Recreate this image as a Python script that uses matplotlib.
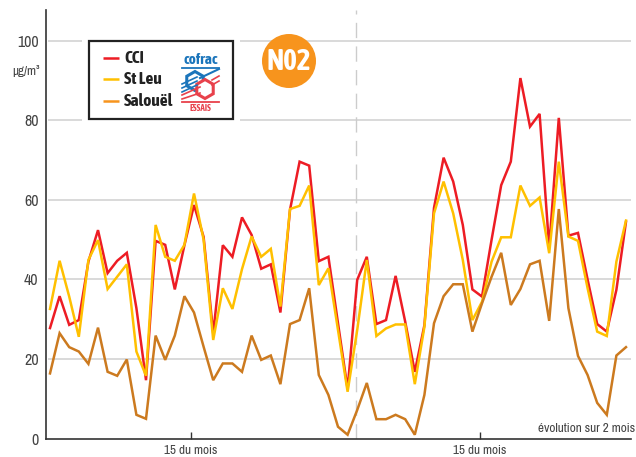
import numpy as np
import matplotlib
matplotlib.use('Agg')
import matplotlib.pyplot as plt
from matplotlib.patches import Rectangle, Circle, RegularPolygon

plt.rcParams['font.family'] = ['Archivo Narrow', 'Liberation Sans Narrow', 'DejaVu Sans']
gras = ['Asap Condensed', 'Liberation Sans Narrow', 'DejaVu Sans']

# valeurs, une par jour sur 2 mois
cci = [27.8, 35.8, 28.6, 29.8, 44.5, 52.4, 41.6, 44.7, 46.7, 32.8, 14.7, 49.7, 48.7, 37.5, 48.6, 58.7,
       50.7, 26.5, 48.6, 45.7, 55.6, 51.2, 42.7, 43.8, 31.7, 57.5, 69.6, 68.6, 44.6, 45.7, 29, 12.5,
       39.9, 45.7, 28.8, 29.8, 40.9, 29.4, 16.8, 28.5, 58, 70.6, 64.6, 53.7, 37.5, 35.7, 50, 63.7,
       69.6, 90.6, 78.4, 81.6, 48, 80.6, 51, 51.7, 40, 28.8, 26.9, 37.4, 54.5]
st_leu = [32.6, 44.7, 35.7, 25.6, 44.9, 49.9, 37.6, 40.7, 43.8, 21.9, 15.8, 53.7, 45.7, 44.7, 48.7, 61.6,
          50, 24.8, 37.8, 32.6, 42.6, 50.8, 45.7, 47.7, 33.2, 57.7, 58.5, 63.6, 38.6, 42.8, 27.3, 11.8,
          27.3, 44.9, 25.8, 27.7, 28.7, 28.7, 13.7, 28.1, 56.6, 64.6, 56.6, 44.9, 29.8, 34.4, 44.5, 50.6,
          50.6, 63.6, 58.5, 60.6, 46.6, 69.6, 50.8, 49.7, 37.8, 26.9, 25.8, 44.5, 54.8]
salouel = [16.4, 26.5, 23, 21.9, 18.8, 27.9, 16.8, 15.8, 19.9, 6, 5, 25.9, 19.8, 25.9, 35.8, 31.7,
           23.1, 14.7, 18.9, 18.9, 16.8, 25.9, 19.8, 20.9, 13.7, 28.8, 29.8, 37.8, 16, 11, 3, 1,
           7.2, 14, 4.9, 4.9, 6, 4.9, 1, 11, 29, 35.8, 38.8, 38.8, 26.9, 34, 40.7, 46.7,
           33.6, 37.6, 43.8, 44.7, 29.6, 57.7, 32.8, 20.8, 16, 9, 6, 20.9, 23]
jours = np.arange(len(cci))

y_ticks = [0, 20, 40, 60, 80, 100]
x_ticks = [14.66, 44.8]
x_labels = ['15 du mois', '15 du mois']
milieu = 31.9

rouge = '#ED1C24'
jaune = '#FFC000'
brun = '#CC7A1F'
orange = '#F7941D'
bleu = '#1B75BB'
rose = '#E8414B'
gris = '#444444'

W, H = 636, 457
fig = plt.figure(figsize=(W / 100, H / 100), dpi=100)
ax = fig.add_axes([45.5 / W, 1 - 438.7 / H, (630.7 - 45.5) / W, (438.7 - 10) / H])
ax.set_xlim(-0.47, 60.49)
ax.set_ylim(0, 107.7)

ax.set_yticks(y_ticks)
ax.set_xticks(x_ticks)
ax.set_xticklabels(x_labels)
ax.tick_params(axis='y', length=0, pad=5, labelsize=11.5, labelcolor=gris)
ax.tick_params(axis='x', direction='in', length=5, width=1, color='#333333', pad=4.5, labelsize=9.5, labelcolor=gris)
ax.hlines(y_ticks[1:], -0.21, 60.49, color='#CFCFCF', lw=1.1, zorder=1)
for s in ['top', 'right']:
    ax.spines[s].set_visible(False)
for s in ['left', 'bottom']:
    ax.spines[s].set_color('#333333')
    ax.spines[s].set_linewidth(1.2)

ax.axvline(milieu, color='#CCCCCC', lw=1, dashes=(11, 6), zorder=1)

ax.plot(jours, cci, color=rouge, lw=1.8, zorder=3, solid_joinstyle='miter')
ax.plot(jours, st_leu, color=jaune, lw=1.8, zorder=4, solid_joinstyle='miter')
ax.plot(jours, salouel, color=brun, lw=1.8, zorder=5, solid_joinstyle='miter')

# habillage en pixels : cartouche, logo, pastille
ov = fig.add_axes([0, 0, 1, 1])
ov.set_xlim(0, W)
ov.set_ylim(H, 0)
ov.axis('off')
ov.patch.set_alpha(0)

ov.add_patch(Rectangle((82, 33), 158, 93, fc='white', ec='none'))
ov.add_patch(Rectangle((88.5, 40.7), 144.5, 78.8, fc='white', ec='#222222', lw=1.6))

for yy, col, nom in [(58, rouge, 'CCI'), (79, jaune, 'St Leu'), (101, orange, 'Salouël')]:
    ov.plot([103, 119], [yy, yy], color=col, lw=1.8, solid_capstyle='butt')
    ov.text(124, yy, nom, fontsize=12.5, fontweight='bold', family=gras, color='#222222', va='center', ha='left')

# logo cofrac
ov.text(200.5, 60, 'cofrac', fontsize=11, fontweight='bold', family=gras, color=bleu, ha='center', va='center')
ov.plot([182, 219], [68, 68], color=bleu, lw=1.3)
ov.plot([219, 200], [69, 78], color=bleu, lw=1.5)
ov.plot([182, 197], [84, 77], color=bleu, lw=1.2)
ov.plot([182, 197], [88, 81], color=bleu, lw=1.2)
ov.plot([182, 197], [92, 85], color=bleu, lw=1.2)
ov.add_patch(RegularPolygon((195, 81), 6, radius=9.5, fc='white', ec=bleu, lw=2.2))
ov.plot([212, 219], [80, 76], color=rose, lw=1.2)
ov.plot([212, 219], [85, 81], color=rose, lw=1.2)
ov.plot([182, 200], [95, 87], color=rose, lw=1.2)
ov.plot([182, 200], [99, 93], color=rose, lw=1.2)
ov.plot([182, 219], [102, 102], color=rose, lw=1.3)
ov.add_patch(RegularPolygon((205, 89), 6, radius=9.5, fc='white', ec=rose, lw=2.2))
ov.text(200.5, 108.5, 'ESSAIS', fontsize=6.5, fontweight='bold', family=gras, color=rose, ha='center', va='center')

ov.add_patch(Circle((289, 61), 27, fc=orange, ec='none'))
ov.text(289, 61, 'N02', fontsize=21, fontweight='bold', family=gras, color='white', ha='center', va='center')

ov.text(26, 71, 'µg/m³', fontsize=9.5, color=gris, ha='center', va='center')
ov.text(635, 429, 'évolution sur 2 mois', fontsize=9.5, color=gris, ha='right', va='center')

fig.savefig('out.png', dpi=100)
